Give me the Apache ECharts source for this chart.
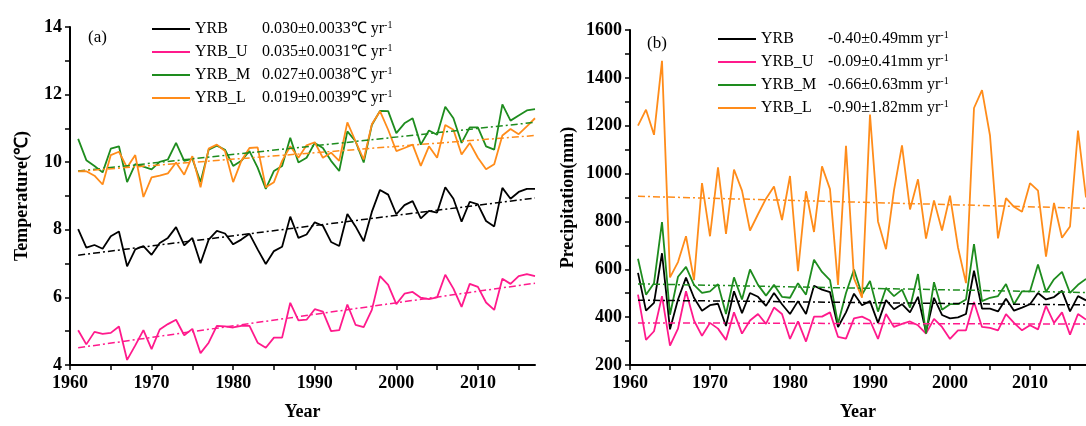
<!DOCTYPE html>
<html>
<head>
<meta charset="utf-8">
<script src="https://cdn.jsdelivr.net/npm/echarts@6/dist/echarts.min.js"></script>
<style>
html, body { margin: 0; padding: 0; background: #fff; }
#chart { width: 1086px; height: 426px; }
</style>
</head>
<body>
<div id="chart"></div>
<script>
'use strict'
var years = [];
for (var y = 1961; y <= 2017; y++) years.push(y);

var names = ['YRB', 'YRB_U', 'YRB_M', 'YRB_L'];
var colors = ['#000000', '#ff1a8c', '#1e8c1e', '#ff8c1a'];
var tempRates = ['0.030\u00b10.0033\u2103 yr', '0.035\u00b10.0031\u2103 yr', '0.027\u00b10.0038\u2103 yr', '0.019\u00b10.0039\u2103 yr'];
var precRates = ['-0.40\u00b10.49mm yr', '-0.09\u00b10.41mm yr', '-0.66\u00b10.63mm yr', '-0.90\u00b11.82mm yr'];

// temperature (deg C), 1961-2017
var tempYRB = [8.02, 7.47, 7.55, 7.44, 7.81, 7.95, 6.92, 7.42, 7.52, 7.26,
    7.61, 7.76, 8.08, 7.54, 7.76, 7.01, 7.71, 7.97, 7.89, 7.57,
    7.71, 7.88, 7.42, 6.99, 7.37, 7.50, 8.39, 7.76, 7.86, 8.22,
    8.12, 7.64, 7.52, 8.47, 8.10, 7.66, 8.53, 9.18, 9.04, 8.46,
    8.73, 8.85, 8.34, 8.56, 8.51, 9.26, 8.92, 8.24, 8.83, 8.75,
    8.26, 8.10, 9.24, 8.92, 9.12, 9.21, 9.21];
var tempU = [5.03, 4.61, 4.98, 4.92, 4.95, 5.14, 4.15, 4.58, 5.03, 4.47,
    5.05, 5.21, 5.34, 4.88, 5.07, 4.35, 4.66, 5.16, 5.14, 5.11,
    5.16, 5.16, 4.66, 4.51, 4.81, 4.81, 5.84, 5.32, 5.34, 5.65,
    5.58, 5.00, 5.03, 5.79, 5.19, 5.12, 5.63, 6.63, 6.37, 5.80,
    6.11, 6.16, 5.99, 5.95, 6.00, 6.67, 6.26, 5.72, 6.40, 6.31,
    5.85, 5.63, 6.55, 6.40, 6.63, 6.69, 6.63];
var tempM = [10.69, 10.06, 9.89, 9.70, 10.40, 10.47, 9.41, 9.94, 9.87, 9.79,
    10.01, 10.08, 10.57, 10.04, 10.10, 9.41, 10.37, 10.49, 10.37, 9.89,
    10.04, 10.33, 9.84, 9.21, 9.74, 9.89, 10.72, 9.99, 10.13, 10.57,
    10.42, 10.04, 9.74, 10.91, 10.62, 9.99, 11.10, 11.52, 11.51, 10.86,
    11.15, 11.30, 10.52, 10.94, 10.81, 11.64, 11.30, 10.57, 11.03, 11.03,
    10.47, 10.37, 11.71, 11.23, 11.38, 11.53, 11.57];
var tempL = [9.73, 9.73, 9.60, 9.34, 10.21, 10.31, 9.84, 10.21, 8.97, 9.55,
    9.60, 9.67, 9.99, 9.63, 10.18, 9.26, 10.40, 10.52, 10.33, 9.41,
    10.04, 10.42, 10.44, 9.26, 9.41, 10.04, 10.47, 10.13, 10.50, 10.59,
    10.13, 10.28, 10.04, 11.18, 10.62, 10.08, 11.12, 11.51, 10.96, 10.33,
    10.42, 10.52, 9.89, 10.47, 10.13, 11.10, 10.96, 10.23, 10.57, 10.13,
    9.79, 9.94, 10.79, 10.98, 10.83, 11.06, 11.30];
var tempTrendStart = [7.25, 4.51, 9.74, 9.73];
var tempTrendEnd = [8.94, 6.42, 11.18, 10.79];

// precipitation (mm), 1961-2017
var precYRB = [585, 427, 460, 667, 349, 474, 565, 481, 427, 450,
    456, 363, 508, 417, 501, 485, 447, 501, 454, 413,
    467, 413, 531, 515, 505, 359, 420, 498, 450, 467,
    376, 471, 433, 454, 420, 485, 338, 481, 409, 395,
    399, 413, 594, 436, 436, 424, 477, 427, 440, 454,
    501, 474, 484, 510, 424, 488, 470];
var precU = [494, 305, 341, 488, 281, 352, 508, 386, 322, 376,
    352, 305, 420, 331, 386, 413, 372, 440, 413, 309,
    382, 298, 402, 402, 420, 318, 310, 395, 402, 386,
    309, 413, 359, 372, 382, 366, 331, 393, 359, 309,
    345, 345, 463, 359, 355, 345, 413, 376, 345, 366,
    349, 447, 376, 420, 327, 413, 390];
var precM = [644, 494, 542, 797, 410, 569, 610, 535, 501, 508,
    538, 413, 566, 474, 599, 535, 490, 535, 485, 481,
    542, 494, 640, 589, 555, 372, 501, 599, 494, 551,
    423, 522, 488, 515, 440, 580, 331, 546, 431, 454,
    454, 474, 705, 467, 481, 488, 538, 454, 508, 508,
    620, 506, 558, 589, 501, 535, 560];
var precL = [1200, 1267, 1162, 1471, 566, 630, 738, 555, 960, 738,
    1026, 748, 1017, 929, 762, 830, 895, 946, 806, 990,
    592, 926, 756, 1030, 935, 535, 1116, 562, 481, 1247,
    800, 684, 931, 1118, 850, 976, 728, 888, 762, 908,
    691, 542, 1274, 1349, 1159, 729, 897, 861, 840, 960,
    929, 653, 877, 732, 779, 1180, 900];
var precTrendStart = [471, 376, 539, 905];
var precTrendEnd = [451, 371, 503, 855];

var xTicks = [1960, 1965, 1970, 1975, 1980, 1985, 1990, 1995, 2000, 2005, 2010, 2015];
var xLabels = [1960, 1970, 1980, 1990, 2000, 2010];
var tempTicks = [4, 5, 6, 7, 8, 9, 10, 11, 12, 13, 14];
var tempLabels = [4, 6, 8, 10, 12, 14];
var precTicks = [200, 300, 400, 500, 600, 700, 800, 900, 1000, 1100, 1200, 1300, 1400, 1500, 1600];
var precLabels = [200, 400, 600, 800, 1000, 1200, 1400, 1600];

var serif = 'Liberation Serif, Times New Roman, serif';
var tempSets = [tempYRB, tempU, tempM, tempL];
var precSets = [precYRB, precU, precM, precL];

function pairs(values) {
    return years.map(function (yr, i) { return [yr, values[i]]; });
}

function plain(v) {
    return String(v);
}

function xAxisFor(idx) {
    return {
        gridIndex: idx, type: 'value', min: 1960, max: 2017,
        name: 'Year', nameLocation: 'middle', nameGap: 38,
        nameTextStyle: { fontFamily: serif, fontWeight: 'bold', fontSize: 18, color: '#000' },
        axisLine: { onZero: false, lineStyle: { color: '#000', width: 2 } },
        axisTick: { show: true, customValues: xTicks, length: 5, lineStyle: { color: '#000', width: 1.5 } },
        axisLabel: { customValues: xLabels, formatter: plain, margin: 9, fontFamily: serif, fontWeight: 'bold', fontSize: 18, color: '#000' },
        splitLine: { show: false }
    };
}

function yAxisFor(idx, min, max, ticks, labels, name, gap) {
    return {
        gridIndex: idx, type: 'value', min: min, max: max,
        name: name, nameLocation: 'middle', nameGap: gap,
        nameTextStyle: { fontFamily: serif, fontWeight: 'bold', fontSize: 18, color: '#000' },
        axisLine: { show: true, onZero: false, lineStyle: { color: '#000', width: 2 } },
        axisTick: { show: true, customValues: ticks, length: 5, lineStyle: { color: '#000', width: 1.5 } },
        axisLabel: { customValues: labels, formatter: plain, margin: 8, fontFamily: serif, fontWeight: 'bold', fontSize: 18, color: '#000' },
        splitLine: { show: false }
    };
}

function legendFor(left, top, rates) {
    return {
        orient: 'vertical', left: left, top: top, padding: 0,
        data: names, icon: 'rect', itemWidth: 38, itemHeight: 2, itemGap: 5,
        formatter: function (name) {
            return '{n|' + name + '}{v|' + rates[names.indexOf(name)] + '}{s|-1}';
        },
        textStyle: {
            fontFamily: serif, fontSize: 16, color: '#000', lineHeight: 18,
            rich: {
                n: { width: 67, fontFamily: serif, fontSize: 16, lineHeight: 18 },
                v: { fontFamily: serif, fontSize: 16, lineHeight: 18 },
                s: { fontFamily: serif, fontSize: 10, lineHeight: 18, verticalAlign: 'top' }
            }
        }
    };
}

var series = [];
[[tempSets, tempTrendStart, tempTrendEnd, 0], [precSets, precTrendStart, precTrendEnd, 1]].forEach(function (p) {
    p[0].forEach(function (vals, i) {
        series.push({
            name: names[i], type: 'line', xAxisIndex: p[3], yAxisIndex: p[3],
            data: pairs(vals), symbol: 'none', silent: true,
            itemStyle: { color: colors[i] },
            lineStyle: { color: colors[i], width: 1.8 }
        });
    });
    p[0].forEach(function (vals, i) {
        series.push({
            name: names[i] + ' trend', type: 'line', xAxisIndex: p[3], yAxisIndex: p[3],
            data: [[1961, p[1][i]], [2017, p[2][i]]], symbol: 'none', silent: true,
            lineStyle: { color: colors[i], width: 1.5, type: [7, 3, 2, 3] }
        });
    });
});

var chart = echarts.init(document.getElementById('chart'));
chart.setOption({
    backgroundColor: '#fff',
    animation: false,
    grid: [
        { left: 70, top: 27, width: 465, height: 344 },
        { left: 630, top: 30, width: 465, height: 344 }
    ],
    xAxis: [xAxisFor(0), xAxisFor(1)],
    yAxis: [
        yAxisFor(0, 4, 14, tempTicks, tempLabels, 'Temperature(\u2103)', 39),
        yAxisFor(1, 200, 1600, precTicks, precLabels, 'Precipitation(mm)', 53)
    ],
    legend: [legendFor(152, 20, tempRates), legendFor(718, 30, precRates)],
    graphic: [
        { type: 'text', left: 88, top: 29, style: { text: '(a)', fontFamily: serif, fontSize: 17, fill: '#000' } },
        { type: 'text', left: 647, top: 35, style: { text: '(b)', fontFamily: serif, fontSize: 17, fill: '#000' } }
    ],
    series: series
});
</script>
</body>
</html>
